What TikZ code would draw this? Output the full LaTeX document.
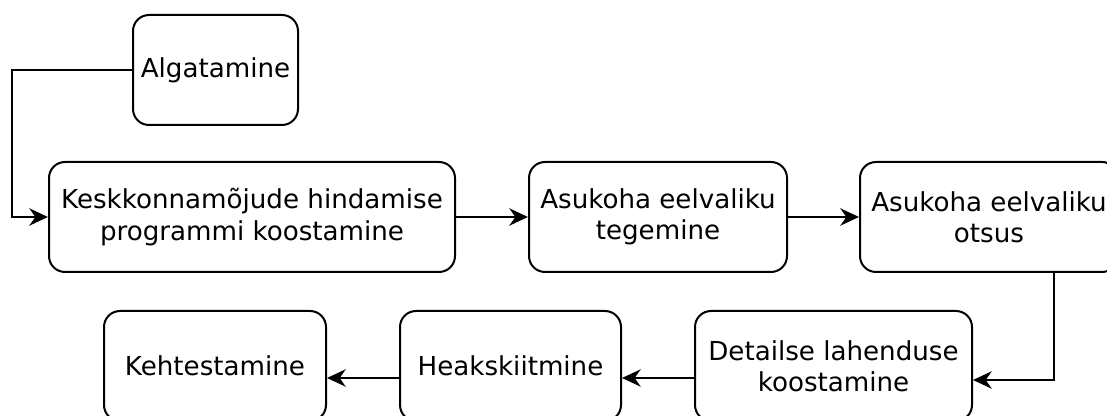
\documentclass[tikz,border=0pt]{standalone}
\usepackage{fontspec}
\setmainfont{DejaVu Sans}
\usetikzlibrary{arrows.meta}
\tikzset{
  boxnode/.style={draw, line width=1.5pt, rounded corners=12pt, align=center,
    font=\fontsize{19.6}{23.5}\selectfont, inner sep=0pt},
  conn/.style={line width=1.5pt, -{Stealth[length=14pt,width=13pt,inset=4.5pt]}},
}
\begin{document}
\begin{tikzpicture}[x=0.75pt,y=-0.75pt]
\clip (0,0) rectangle (1107,416);
\fill[white] (0,0) rectangle (1107,416);
\node[boxnode, minimum width=165*0.75pt, minimum height=110*0.75pt] (alg) at (215.5,70) {Algatamine};
\node[boxnode, minimum width=406*0.75pt, minimum height=110*0.75pt] (kesk) at (252,217) {Keskkonnamõjude hindamise\\programmi koostamine};
\node[boxnode, minimum width=258*0.75pt, minimum height=110*0.75pt] (teg) at (658,217) {Asukoha eelvaliku\\tegemine};
\node[boxnode, minimum width=258*0.75pt, minimum height=110*0.75pt] (ots) at (989,217) {Asukoha eelvaliku\\otsus};
\node[boxnode, minimum width=277*0.75pt, minimum height=110*0.75pt] (det) at (833.5,366) {Detailse lahenduse\\koostamine};
\node[boxnode, minimum width=221*0.75pt, minimum height=110*0.75pt] (heak) at (510.5,366) {Heakskiitmine};
\node[boxnode, minimum width=222*0.75pt, minimum height=110*0.75pt] (keht) at (215,366) {Kehtestamine};
\coordinate (c1) at (12,70);
\coordinate (c2) at (1054,380);
\coordinate (ay) at (0,378);
\draw[conn] (alg.west) -- (c1) |- (kesk.west);
\draw[conn] (kesk) -- (teg);
\draw[conn] (teg) -- (ots);
\draw[conn] (ots.south -| c2) -- (c2) -- (det.east |- c2);
\draw[conn] (det.west |- ay) -- (heak.east |- ay);
\draw[conn] (heak.west |- ay) -- (keht.east |- ay);
\end{tikzpicture}
\end{document}
